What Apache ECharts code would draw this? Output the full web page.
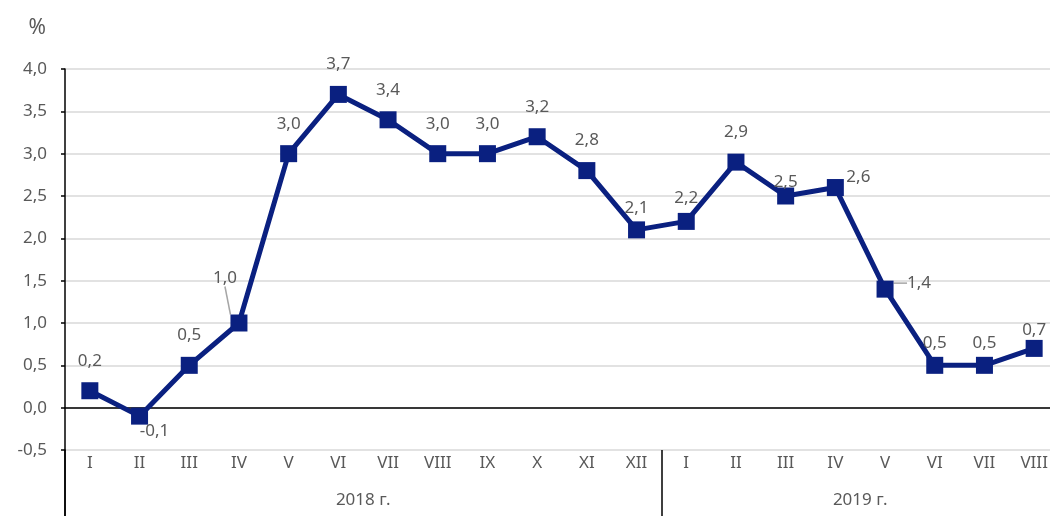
<!DOCTYPE html>
<html>
<head>
<meta charset="utf-8">
<script src="https://cdn.jsdelivr.net/npm/echarts@6/dist/echarts.min.js"></script>
<style>
  html, body { margin: 0; padding: 0; background: #fff; }
  #chart { width: 1050px; height: 516px; }
</style>
</head>
<body>
<div id="chart"></div>
<script>
const months = ['I', 'II', 'III', 'IV', 'V', 'VI', 'VII', 'VIII', 'IX', 'X', 'XI', 'XII',
  'I', 'II', 'III', 'IV', 'V', 'VI', 'VII', 'VIII']
const values = [0.2, -0.1, 0.5, 1.0, 3.0, 3.7, 3.4, 3.0, 3.0, 3.2, 2.8, 2.1,
  2.2, 2.9, 2.5, 2.6, 1.4, 0.5, 0.5, 0.7]
const years = ['2018 г.', '2019 г.']
const yearBounds = [0, 12, 20]

// сдвиг подписей относительно позиции "top"
const labelShift = {
  1: [15, 45], 3: [-14, -15], 11: [0, 8], 12: [0, 7], 14: [0, 16],
  15: [23, 20], 16: [34, 24], 17: [0, 8], 18: [0, 8], 19: [0, 12]
}
const withLeader = [3, 16]

const textColor = '#595959'
const lineColor = '#0a2080'
const font = 'Noto Sans'

const chart = echarts.init(document.getElementById('chart'))

const fmt = v => v.toFixed(1).replace('.', ',')

const option = {
  animation: false,
  textStyle: { fontFamily: font },
  grid: [
    { left: 65, width: 994, top: 69, height: 381, outerBoundsMode: 'none', containLabel: false },
    { left: 65, width: 994, top: 450, height: 66, outerBoundsMode: 'none', containLabel: false }
  ],
  xAxis: [
    {
      type: 'category', gridIndex: 0, data: months,
      axisLine: { onZero: true, lineStyle: { color: '#000', width: 1.5 } },
      axisTick: { inside: true, alignWithLabel: true, length: 5, lineStyle: { color: '#000' } },
      axisLabel: { show: false }
    },
    {
      type: 'category', gridIndex: 0, data: months, position: 'bottom',
      axisLine: { onZero: false, show: false },
      axisTick: { show: false },
      axisLabel: { color: textColor, fontSize: 17, margin: 5, fontFamily: font }
    },
    {
      // подписи годов
      type: 'value', gridIndex: 1, min: yearBounds[0], max: yearBounds[2], position: 'top',
      axisLine: { show: false },
      splitLine: { show: false },
      axisTick: { show: false },
      axisLabel: {
        inside: true, margin: 42, color: textColor, fontSize: 17, fontFamily: font,
        customValues: [(yearBounds[0] + yearBounds[1]) / 2, (yearBounds[1] + yearBounds[2]) / 2],
        formatter: v => (v < yearBounds[1] ? years[0] : years[1])
      }
    },
    {
      // разделитель между годами
      type: 'category', gridIndex: 1, data: months, position: 'bottom',
      axisLine: { show: false, onZero: false },
      axisLabel: { show: false, interval: yearBounds[1] - 1 },
      axisTick: {
        show: true, inside: true, length: 66,
        interval: yearBounds[1] - 1,
        lineStyle: { color: '#000', width: 1.5 }
      },
      splitLine: { show: false }
    }
  ],
  yAxis: [
    {
      type: 'value', gridIndex: 0, min: -0.5, max: 4, interval: 0.5,
      name: '%', nameLocation: 'end', nameGap: 30,
      nameTextStyle: { color: textColor, fontSize: 21, align: 'right', padding: [0, 19, 0, 0], fontFamily: font },
      axisLine: { show: true, lineStyle: { color: '#000', width: 1.5 } },
      axisTick: { show: true, length: 4, lineStyle: { color: '#000', width: 1.5 } },
      axisLabel: { color: textColor, fontSize: 17, margin: 18, formatter: fmt, fontFamily: font },
      splitLine: { lineStyle: { color: '#d9d9d9', width: 1.5 } }
    },
    {
      type: 'value', gridIndex: 1, min: 0, max: 1,
      axisLine: { show: true, lineStyle: { color: '#000', width: 1.5 } },
      axisTick: { show: false }, axisLabel: { show: false }, splitLine: { show: false }
    }
  ],
  series: [
    {
      type: 'line', xAxisIndex: 0, yAxisIndex: 0,
      data: values.map((v, i) => ({
        value: v,
        labelLine: { show: withLeader.includes(i), lineStyle: { color: '#a6a6a6', width: 1.5 } }
      })),
      symbol: 'rect', symbolSize: 17,
      itemStyle: { color: lineColor },
      lineStyle: { color: lineColor, width: 5 },
      label: {
        show: true, position: 'top', distance: 13, color: textColor, fontSize: 17, fontFamily: font,
        formatter: p => fmt(p.value)
      },
      labelLayout: p => {
        const s = labelShift[p.dataIndex]
        return s ? { dx: s[0], dy: s[1] } : {}
      }
    }
  ]
}

chart.setOption(option)
</script>
</body>
</html>
